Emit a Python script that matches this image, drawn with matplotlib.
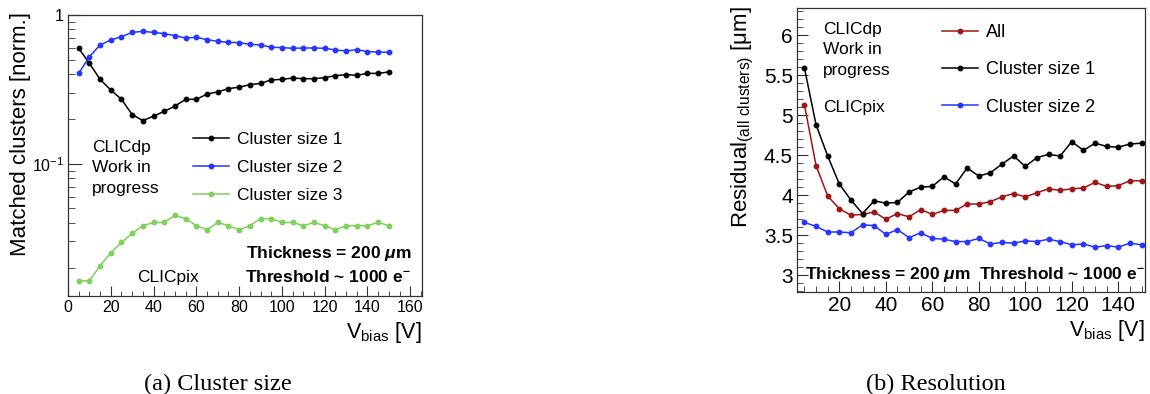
import numpy as np
import matplotlib
matplotlib.use('Agg')
import matplotlib.pyplot as plt
from matplotlib.ticker import FixedLocator, FixedFormatter, MultipleLocator, NullFormatter

plt.rcParams['font.family'] = ['Liberation Sans', 'DejaVu Sans']
plt.rcParams['mathtext.fontset'] = 'custom'
plt.rcParams['mathtext.rm'] = 'Liberation Sans'
plt.rcParams['mathtext.it'] = 'Liberation Sans:bold:italic'
plt.rcParams['mathtext.bf'] = 'Liberation Sans:bold'

# bias voltage scan [V]
vbias = np.arange(5, 155, 5)

# (a) matched clusters, normalised
frac_size1 = [0.597, 0.473, 0.369, 0.313, 0.271, 0.214, 0.195, 0.209, 0.225, 0.244,
              0.271, 0.271, 0.294, 0.304, 0.320, 0.327, 0.340, 0.347, 0.366, 0.369,
              0.377, 0.373, 0.373, 0.379, 0.391, 0.397, 0.393, 0.405, 0.405, 0.414]
frac_size2 = [0.405, 0.524, 0.629, 0.679, 0.715, 0.764, 0.776, 0.764, 0.749, 0.726,
              0.700, 0.708, 0.683, 0.665, 0.655, 0.652, 0.635, 0.629, 0.607, 0.604,
              0.597, 0.600, 0.600, 0.597, 0.582, 0.573, 0.585, 0.567, 0.564, 0.561]
frac_size3 = [0.0163, 0.0163, 0.0206, 0.0252, 0.0296, 0.0340, 0.0383, 0.0403, 0.0403, 0.0450,
              0.0427, 0.0383, 0.0360, 0.0403, 0.0383, 0.0360, 0.0383, 0.0427, 0.0427, 0.0403,
              0.0403, 0.0383, 0.0403, 0.0383, 0.0360, 0.0383, 0.0383, 0.0383, 0.0403, 0.0383]

# (b) residual width [um]
res_all = [5.13, 4.37, 3.99, 3.83, 3.75, 3.76, 3.79, 3.70, 3.77, 3.73,
           3.82, 3.76, 3.81, 3.81, 3.89, 3.89, 3.92, 3.98, 4.02, 3.98,
           4.03, 4.08, 4.06, 4.08, 4.09, 4.16, 4.11, 4.12, 4.18, 4.18]
res_size1 = [5.59, 4.88, 4.49, 4.14, 3.94, 3.77, 3.93, 3.90, 3.91, 4.04,
             4.10, 4.11, 4.23, 4.14, 4.34, 4.24, 4.28, 4.39, 4.49, 4.36,
             4.47, 4.51, 4.49, 4.67, 4.56, 4.65, 4.61, 4.60, 4.64, 4.65]
res_size2 = [3.66, 3.61, 3.54, 3.54, 3.53, 3.63, 3.62, 3.51, 3.57, 3.47,
             3.53, 3.46, 3.45, 3.42, 3.42, 3.46, 3.39, 3.41, 3.40, 3.43,
             3.42, 3.45, 3.42, 3.38, 3.39, 3.35, 3.37, 3.35, 3.40, 3.38]

W, H = 1150, 394
fig = plt.figure(figsize=(W / 100, H / 100), dpi=100)


def fx(px):
    return px / W


def fy(py):
    return 1 - py / H


def axes_px(x0, y0, x1, y1):
    return fig.add_axes([fx(x0), fy(y1), fx(x1 - x0), (y1 - y0) / H])


def style(ax, lab):
    for s in ax.spines.values():
        s.set_linewidth(0.9)
        s.set_color('#333333')
    ax.tick_params(which='both', direction='in', top=False, right=False,
                   labelsize=lab, pad=3, color='#333333')


kw = dict(lw=1.1, marker='o', ms=3.2)

# ---------- (a) ----------
ax1 = axes_px(68, 15, 422, 296)
style(ax1, 11.5)
ax1.plot(vbias, frac_size1, color='black', label='Cluster size 1', **kw)
ax1.plot(vbias, frac_size2, color='#2636ff', label='Cluster size 2', **kw)
ax1.plot(vbias, frac_size3, color='#7fd05c', label='Cluster size 3', **kw)
ax1.set_yscale('log')
ax1.set_xlim(0, 165.5)
ax1.set_ylim(0.0129, 1.0)
ax1.xaxis.set_major_locator(MultipleLocator(20))
ax1.xaxis.set_minor_locator(MultipleLocator(5))
ax1.yaxis.set_major_locator(FixedLocator([0.1, 1.0]))
ax1.yaxis.set_major_formatter(FixedFormatter(['$10^{-1}$', '1']))
minors = [m * d for d in (0.01, 0.1) for m in range(2, 10)]
ax1.yaxis.set_minor_locator(FixedLocator(minors))
ax1.yaxis.set_minor_formatter(NullFormatter())
ax1.tick_params(axis='x', which='major', length=7)
ax1.tick_params(axis='x', which='minor', length=3.5)
ax1.tick_params(axis='y', which='major', length=10)
ax1.tick_params(axis='y', which='minor', length=5)
ax1.legend(loc='upper left', bbox_to_anchor=(0.353, 0.585), frameon=False,
           fontsize=12.5, handlelength=2.1, handletextpad=0.45,
           labelspacing=0.74, borderpad=0, borderaxespad=0)

fig.text(fx(21), fy(12), 'Matched clusters [norm.]', rotation=90,
         ha='center', va='top', fontsize=16)
fig.text(fx(422), fy(338), r'V$_{\mathregular{bias}}$ [V]', ha='right',
         va='baseline', fontsize=15.5)
fig.text(fx(92), fy(140), 'CLICdp\nWork in\nprogress', ha='left', va='top',
         fontsize=12.5, linespacing=1.45)
fig.text(fx(137), fy(282), 'CLICpix', ha='left', va='baseline', fontsize=12.5)
fig.text(fx(411), fy(258), r'Thickness = 200 $\mu$m', ha='right',
         va='baseline', fontsize=12.5, fontweight='bold')
fig.text(fx(411), fy(282), r'Threshold ~ 1000 e$^{\mathbf{-}}$', ha='right',
         va='baseline', fontsize=12.5, fontweight='bold')

# ---------- (b) ----------
ax2 = axes_px(797, 8, 1145, 292)
style(ax2, 15)
ax2.plot(vbias, res_all, color='#9e1616', label='All', **kw)
ax2.plot(vbias, res_size1, color='black', label='Cluster size 1', **kw)
ax2.plot(vbias, res_size2, color='#2636ff', label='Cluster size 2', **kw)
ax2.set_xlim(1.8, 151.5)
ax2.set_ylim(2.79, 6.34)
ax2.xaxis.set_major_locator(MultipleLocator(20))
ax2.xaxis.set_minor_locator(MultipleLocator(5))
ax2.yaxis.set_major_locator(MultipleLocator(0.5))
ax2.yaxis.set_minor_locator(MultipleLocator(0.1))
ax2.yaxis.set_major_formatter(matplotlib.ticker.FuncFormatter(lambda v, p: f'{v:g}'))
ax2.tick_params(axis='both', which='major', length=8)
ax2.tick_params(axis='both', which='minor', length=4)
ax2.legend(loc='upper left', bbox_to_anchor=(0.417, 0.943), frameon=False,
           fontsize=13, handlelength=2.0, handletextpad=0.45,
           labelspacing=1.12, borderpad=0, borderaxespad=0)

fig.text(fx(743), fy(6), r'Residual$_{\mathregular{(all\ clusters)}}$ [$\mathregular{\mu}$m]',
         rotation=90, ha='center', va='top', fontsize=16)
fig.text(fx(1145), fy(336), r'V$_{\mathregular{bias}}$ [V]', ha='right',
         va='baseline', fontsize=15.5)
fig.text(fx(823), fy(22), 'CLICdp\nWork in\nprogress', ha='left', va='top',
         fontsize=12.5, linespacing=1.45)
fig.text(fx(823), fy(112), 'CLICpix', ha='left', va='baseline', fontsize=12.5)
fig.text(fx(805), fy(279), r'Thickness = 200 $\mu$m  Threshold ~ 1000 e$^{\mathbf{-}}$',
         ha='left', va='baseline', fontsize=12.5, fontweight='bold')

# captions
fig.text(fx(218), fy(390), '(a) Cluster size', ha='center', va='baseline',
         fontsize=17.5, family='Liberation Serif')
fig.text(fx(936), fy(390), '(b) Resolution', ha='center', va='baseline',
         fontsize=17.5, family='Liberation Serif')

fig.savefig('out.png', dpi=100)
